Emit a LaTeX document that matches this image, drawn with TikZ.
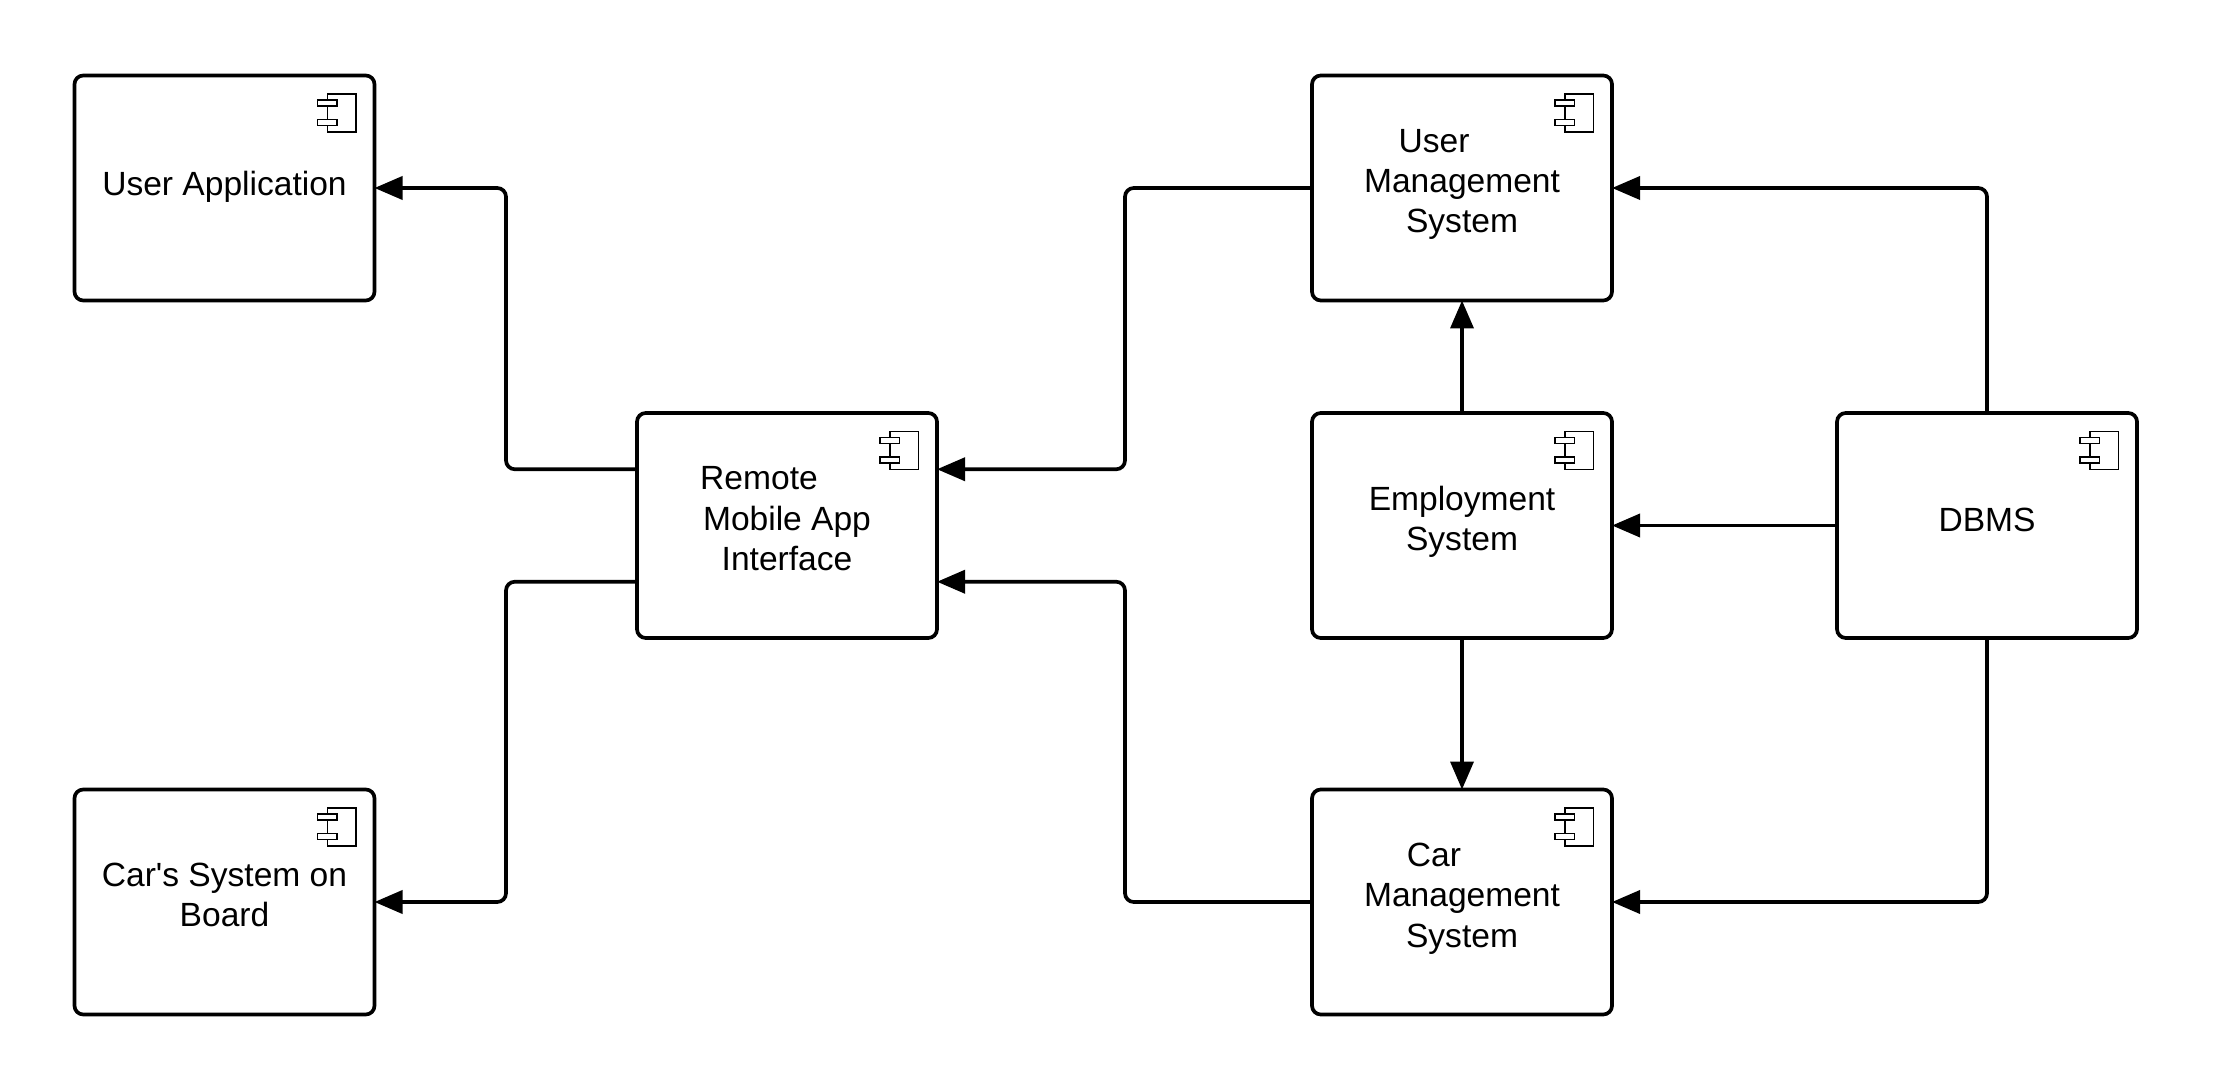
\documentclass[tikz,border=0pt]{standalone}
\usepackage{fontspec}
\usepackage{xcolor}
\setmainfont{Liberation Sans}
\usetikzlibrary{arrows.meta}

\begin{document}
\begin{tikzpicture}[
  comp/.style={draw, rounded corners=5pt, line width=2.1pt, minimum width=6cm, minimum height=4.5cm,
    inner sep=0pt, outer sep=0pt, align=center, text depth=8pt, font=\fontsize{19.1}{23}\selectfont},
  conn/.style={draw, line width=2.1pt, rounded corners=5pt, -{Triangle[length=.56cm, width=.46cm]}},
  compicon/.pic={
    \draw[line width=.85pt] (-.94,-.37) rectangle (-.37,-1.13);
    \draw[line width=.85pt, fill=white] (-1.14,-.49) rectangle (-.75,-.61);
    \draw[line width=.85pt, fill=white] (-1.14,-.88) rectangle (-.75,-1.0);
  }
]
\useasboundingbox (0,0) rectangle (44.26,21.76);

\node[comp, text depth=4.8pt] (userapp) at (4.49,18.0) {User Application};
\node[comp] (carsys) at (4.49,3.72) {Car\textquotesingle s System on\\Board};
\node[comp] (remote) at (15.74,11.25) {Remote\hspace*{1.12cm}\\Mobile App\\Interface};
\node[comp] (usermgmt) at (29.24,18.0) {User\hspace*{1.12cm}\\Management\\System};
\node[comp] (employ) at (29.24,11.25) {Employment\\System};
\node[comp] (carmgmt) at (29.24,3.72) {Car\hspace*{1.12cm}\\Management\\System};
\node[comp, text depth=6pt] (dbms) at (39.74,11.25) {DBMS};

\foreach \n in {userapp, carsys, remote, usermgmt, employ, carmgmt, dbms}
  \pic at (\n.north east) {compicon};

\draw[conn] ([yshift=1.125cm]remote.west) -- ++(-2.62,0) |- (userapp.east);
\draw[conn] ([yshift=-1.125cm]remote.west) -- ++(-2.62,0) |- (carsys.east);
\draw[conn] (usermgmt.west) -- ++(-3.74,0) |- ([yshift=1.125cm]remote.east);
\draw[conn] (carmgmt.west) -- ++(-3.74,0) |- ([yshift=-1.125cm]remote.east);
\draw[conn] (employ.north) -- (usermgmt.south);
\draw[conn] (employ.south) -- (carmgmt.north);
\draw[conn] (dbms.west) -- (employ.east);
\draw[conn] (dbms.north) |- (usermgmt.east);
\draw[conn] (dbms.south) |- (carmgmt.east);
\end{tikzpicture}
\end{document}
